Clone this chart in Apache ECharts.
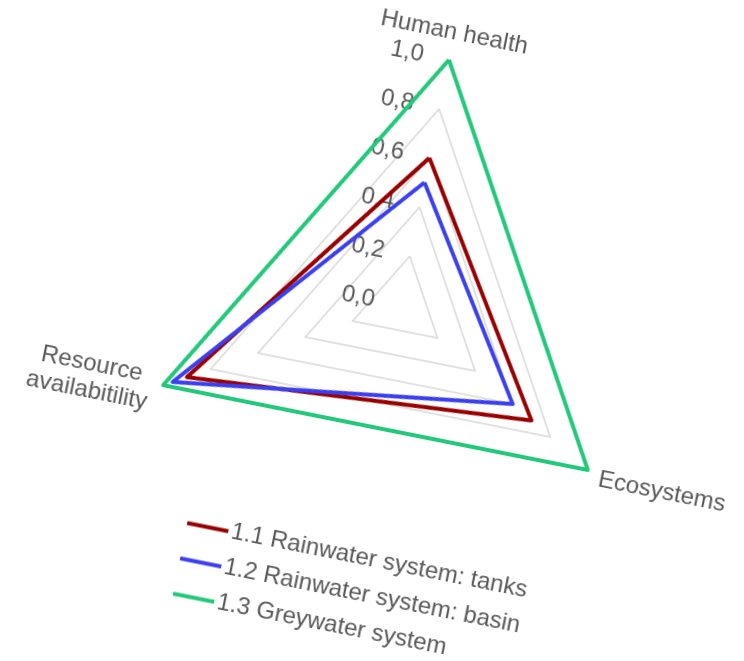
<!DOCTYPE html>
<html>
<head>
<meta charset="utf-8">
<script src="https://cdn.jsdelivr.net/npm/echarts@6/dist/echarts.min.js"></script>
<style>
  html, body { margin: 0; padding: 0; background: #ffffff; overflow: hidden; width: 744px; height: 661px; }
  #chart {
    position: absolute; left: 0; top: 0; width: 820px; height: 720px;
    transform-origin: 400px 305px;
    transform: rotate(11.3deg);
  }
</style>
</head>
<body>
<div id="chart"></div>
<script>
// Impact categories (radar axes), in drawing order
const indicators = ['Human health', 'Resource\navailabitility', 'Ecosystems'];

// Normalised scores per system
const tanks = [0.60, 0.90, 0.70];
const basin = [0.50, 0.96, 0.60];
const greywater = [1.00, 1.00, 1.00];

const seriesNames = [
  '1.1 Rainwater system: tanks',
  '1.2 Rainwater system: basin',
  '1.3 Greywater system'
];
const seriesColors = ['#990000', '#3a3ff0', '#22c97a'];

// Scale tick labels (decimal comma)
const tickLabels = ['0,0', '0,2', '0,4', '0,6', '0,8', '1,0'];

const chart = echarts.init(document.getElementById('chart'), null, { renderer: 'canvas' });

const font = 'Liberation Sans, Arial, sans-serif';
const textGray = '#595959';

const values = [tanks, basin, greywater];

chart.setOption({
  backgroundColor: '#ffffff',
  animation: false,
  legend: {
    orient: 'vertical',
    left: 229,
    top: 543,
    itemWidth: 42,
    itemHeight: 14,
    itemGap: 11,
    data: seriesNames.map((n, i) => ({
      name: n,
      icon: 'path://M0,0 L42,0 L42,4 L0,4 Z',
      itemStyle: { color: seriesColors[i] }
    })),
    textStyle: { fontFamily: font, fontSize: 24, color: textGray, lineHeight: 25, padding: [0, 0, 0, -2] }
  },
  radar: {
    center: [400, 305],
    radius: 250,
    min: 0,
    max: 1,
    splitNumber: 5,
    shape: 'polygon',
    startAngle: 90,
    nameGap: 14,
    axisName: {
      color: textGray,
      fontFamily: font,
      fontSize: 24,
      lineHeight: 27,
      // multi-line names keep their lines centred on each other
      formatter: (name) => name.indexOf('\n') < 0
        ? name
        : name.split('\n').map(s => '{c|' + s + '}').join('\n'),
      rich: {
        c: {
          width: 124,
          align: 'center',
          color: textGray,
          fontFamily: font,
          fontSize: 24,
          lineHeight: 27
        }
      }
    },
    indicator: indicators.map((name, i) => {
      const ind = { name: name, min: 0, max: 1 };
      if (i === 0) {
        ind.axisLabel = { show: true };
      }
      return ind;
    }),
    axisLabel: {
      show: false,
      color: textGray,
      fontFamily: font,
      fontSize: 24,
      margin: 26,
      formatter: (v) => tickLabels[Math.round(v * 5)]
    },
    axisLine: { show: false },
    axisTick: { show: false },
    splitLine: { lineStyle: { color: '#d9d9d9', width: 1.5 } },
    splitArea: { show: false }
  },
  series: [{
    type: 'radar',
    symbol: 'none',
    data: values.map((v, i) => ({
      name: seriesNames[i],
      value: v,
      lineStyle: { color: seriesColors[i], width: 4 },
      itemStyle: { color: seriesColors[i] }
    }))
  }]
});
</script>
</body>
</html>
